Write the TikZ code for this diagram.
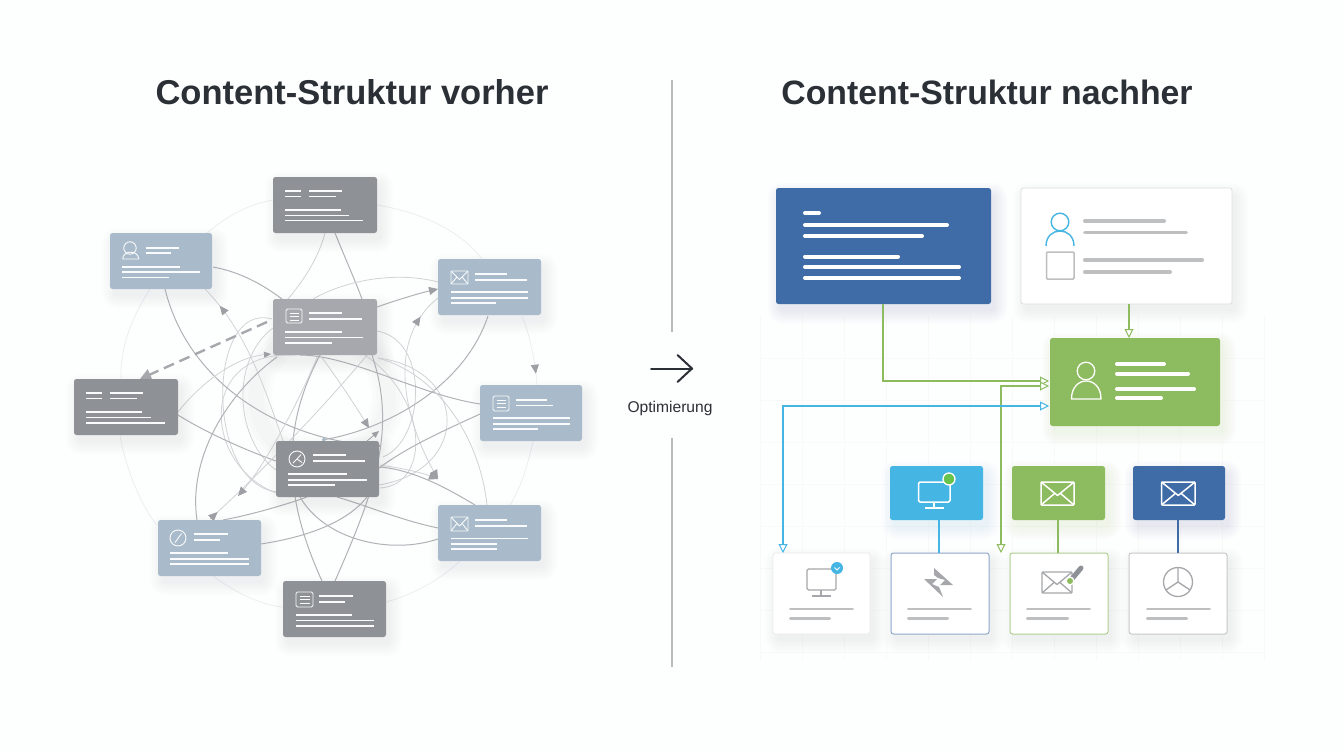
\documentclass[tikz,border=0pt]{standalone}
\usepackage{fontspec}
\setmainfont{Liberation Sans}
\usetikzlibrary{calc,arrows.meta,decorations.markings}
\definecolor{bgc}{HTML}{FDFEFE}
\definecolor{inkc}{HTML}{2B2F36}
\definecolor{darkcard}{HTML}{8E9196}
\definecolor{midcard}{HTML}{A6A8AD}
\definecolor{bluecard}{HTML}{A9BBCB}
\definecolor{connc}{HTML}{B0B3B6}
\definecolor{thinc}{HTML}{D0D3D6}
\definecolor{faintc}{HTML}{ECEEF0}
\definecolor{tipc}{HTML}{9C9FA3}
\definecolor{navyc}{HTML}{3F6CA6}
\definecolor{greenc}{HTML}{8DBB5F}
\definecolor{cyanc}{HTML}{45B5E3}
\definecolor{greyl}{HTML}{BDBFC1}
\definecolor{greyi}{HTML}{A5A7AA}
\pgfdeclarelayer{base}
\pgfsetlayers{base,main}
\tikzset{
  x=1pt,y=-1pt,
  tiptri/.tip={Triangle[length=9pt,width=8pt,color=tipc]},
  tipsmall/.tip={Triangle[length=7pt,width=6pt,color=tipc]},
  tipopen/.tip={Triangle[open,fill=white,line width=1pt,length=9pt,width=9pt]},
  conn/.style={draw=connc,line width=1pt},
  thinline/.style={draw=thinc,line width=.8pt},
  faintline/.style={draw=faintc,line width=.8pt},
  dashline/.style={draw=midcard,line width=2.4pt,dash pattern=on 11pt off 6pt},
  midtip/.style={postaction={decorate},decoration={markings,mark=at position #1 with {\arrow{tiptri}}}},
  midtiprev/.style={postaction={decorate},decoration={markings,mark=at position #1 with {\arrowreversed{tiptri}}}},
  card/.style={anchor=north west,inner sep=0pt,outer sep=0pt,rounded corners=2.5pt,minimum height=#1},
  cardline/.style={draw=white!94!bluecard,line width=1.8pt},
  iconw/.style={draw=white!92!bluecard,line width=.9pt,line join=round},
  wline/.style={draw=white,line width=4pt,line cap=round,shorten <=2pt,shorten >=2pt},
  gline/.style={draw=greyl,line width=3.6pt,line cap=round,shorten <=1.8pt,shorten >=1.8pt},
  gthin/.style={draw=greyl,line width=2.4pt,line cap=round,shorten <=1.2pt,shorten >=1.2pt},
  greenlink/.style={draw=greenc,line width=2.4pt},
  cyanlink/.style={draw=cyanc,line width=2pt},
  iconwr/.style={draw=white,line width=1.5pt,line join=round},
  icong/.style={draw=greyi,line width=1.3pt,line join=round},
  titletext/.style={font=\fontsize{#1}{40}\selectfont\bfseries,text=inkc,inner sep=0pt},
}
\newcommand\softshadow[6]{% x y w h colour opacity
  \foreach \s in {0,2,...,12}{
    \pgfmathsetmacro\rr{3+\s}
    \fill[#5,opacity=#6,rounded corners=\rr pt] (#1+4-\s,#2+7-\s) rectangle (#1+#3+4+\s,#2+#4+7+\s);
  }}
\newcommand\cn[7][]{\draw[#1] ($(#2.north west)+(#3)$) .. controls (#4) and (#5) .. ($(#6.north west)+(#7)$);}
\newcommand\cnc[6][]{\draw[#1] ($(#2.north west)+(#3)$) .. controls (#4) and (#5) .. (#6);}
\newcommand\leftcard[6]{% name x y w colour content
  \softshadow{#2}{#3}{#4}{56}{#5!70!gray}{.014}
  \node[card=56pt,minimum width=#4 pt,fill=#5] (#1) at (#2,#3) {};
  \begin{scope}[shift={(#2,#3)}]#6\end{scope}}
\newcommand\tl[3]{\draw[cardline] (#1,#3)--(#2,#3);}
\newcommand\docicon[4]{\draw[iconw,rounded corners=1.5pt] (#1,#2) rectangle (#3,#4);
  \draw[iconw] (#1+3.5,#2+4)--(#3-3.5,#2+4) (#1+3.5,#2+7.5)--(#3-3.5,#2+7.5) (#1+3.5,#2+11)--(#3-3.5,#2+11);}
\newcommand\envicon[5]{\draw[#5,rounded corners=1pt] (#1,#2) rectangle (#3,#4);
  \draw[#5] (#1,#2)--(#1/2+#3/2,#2/2+#4/2+2)--(#3,#2) (#1,#4)--(#1/2+#3/2-3,#2/2+#4/2) (#3,#4)--(#1/2+#3/2+3,#2/2+#4/2);}
\begin{document}
\begin{tikzpicture}
\useasboundingbox (0,0) rectangle (1344,752);
\begin{pgfonlayer}{base}
  \fill[bgc] (0,0) rectangle (1344,752);
  \foreach \rg in {56,60,...,76}{\draw[black,opacity=.012,line width=12pt] (322,396) circle (\rg pt);}
  \foreach \gx in {760,802,...,1264}{\draw[black!2.5,line width=.6pt] (\gx,316)--(\gx,660);}
  \foreach \gy in {358,400,...,652}{\draw[black!2.5,line width=.6pt] (760,\gy)--(1264,\gy);}
\end{pgfonlayer}

% titles and centre
\node[titletext=34.5] (t1) at (352,92) {Content-Struktur vorher};
\node[titletext=33.8] (t2) at (987,92) {Content-Struktur nachher};
\coordinate (d1) at (672,80); \coordinate (d2) at (672,332);
\coordinate (d3) at (672,438); \coordinate (d4) at (672,667);
\draw[draw=black!27,line width=1.4pt] (d1)--(d2) (d3)--(d4);
\coordinate (a1) at (651,368.5); \coordinate (a2) at (692,368.5);
\draw[draw=inkc,line width=2pt,line cap=round] (a1)--(a2);
\coordinate (a3) at (677.5,355); \coordinate (a4) at (677.5,382);
\draw[draw=inkc,line width=2pt,line cap=round,line join=round] (a3)--(a2)--(a4);
\node[font=\fontsize{15.6}{18}\selectfont,text=inkc,inner sep=0pt] (opt) at (670,408) {Optimierung};

% left cards
\leftcard{A}{273}{177}{104}{darkcard}{\tl{12}{28}{14}\tl{36}{69}{14}\tl{12}{28}{19.5}\tl{36}{63}{19.5}\tl{12}{68}{33}\tl{12}{76}{38.5}\tl{12}{90}{43.5}}
\leftcard{B}{110}{233}{102}{bluecard}{\tl{36}{69}{14.7}\tl{36}{61}{20}\tl{12}{70}{33.7}\tl{12}{90}{39}\tl{12}{59}{44.5}
  \draw[iconw] (20,15) circle (6.2pt);
  \draw[iconw] (12.7,26) .. controls (12.7,17) and (28.7,17) .. (28.7,26) -- cycle;}
\leftcard{C}{273}{299}{104}{midcard}{\tl{36}{69}{14}\tl{36}{89}{20}\tl{12}{69}{33}\tl{12}{90}{38.5}\tl{12}{59}{44}\docicon{13}{10}{29}{24}}
\leftcard{D}{438}{259}{103}{bluecard}{\tl{37}{69}{15}\tl{37}{89}{21}\tl{13}{90}{33}\tl{13}{90}{39}\tl{13}{58}{44}\envicon{13}{12}{30}{25}{iconw}}
\leftcard{E}{74}{379}{104}{darkcard}{\tl{12}{28}{14}\tl{36}{69}{14}\tl{12}{28}{19.5}\tl{36}{63}{19.5}\tl{12}{68}{33}\tl{12}{77}{38.5}\tl{12}{91}{44}}
\leftcard{F}{480}{385}{102}{bluecard}{\tl{36}{67}{15}\tl{36}{73}{20.5}\tl{13}{90}{33}\tl{13}{90}{39}\tl{13}{58}{44}\docicon{13}{11}{29}{26}}
\leftcard{G}{276}{441}{103}{darkcard}{\tl{37}{70}{14}\tl{37}{89}{20}\tl{12}{71}{33}\tl{12}{91}{39}\tl{12}{59}{44}
  \draw[iconw] (21,18) circle (8pt);
  \draw[iconw] (21,18)--(25,13.5) (21,18)--(26,21.5) (21,18)--(17,22);}
\leftcard{H}{158}{520}{103}{bluecard}{\tl{36}{70}{14}\tl{36}{62}{20}\tl{12}{70}{33}\tl{12}{91}{39}\tl{12}{91}{44}
  \draw[iconw] (20,18) circle (8pt);
  \draw[iconw] (17,22.5)--(23.5,13.5);}
\leftcard{I}{438}{505}{103}{bluecard}{\tl{37}{69}{15}\tl{37}{89}{21}\tl{13}{90}{33.5}\tl{13}{59}{39}\tl{13}{59}{44}\envicon{13}{12}{30}{26}{iconw}}
\leftcard{J}{283}{581}{103}{darkcard}{\tl{36}{70}{15}\tl{36}{62}{21}\tl{13}{69}{34}\tl{13}{91}{39.5}\tl{13}{91}{45}\docicon{13}{11}{30}{26}}

% left connectors
\coordinate (f1) at (438,479);
\coordinate (f2) at (238,496);
\coordinate (f3) at (369,428);
\coordinate (f4) at (379,431);
\begin{pgfonlayer}{base}
  \cn[faintline]{B}{40,56}{130,320}{120,350}{E}{47,0}
  \cn[faintline]{A}{0,23}{245,205}{225,218}{B}{97,0}
  \cn[faintline]{D}{44,0}{460,230}{420,212}{A}{104,28}
  \cn[faintline]{J}{0,26}{260,605}{235,592}{H}{55,56}
  \cn[faintline]{I}{22,56}{440,580}{412,595}{J}{103,21}
  \cn[faintline]{F}{53,56}{528,465}{520,490}{I}{72,0}
  \cn[faintline]{E}{46,56}{125,465}{140,505}{H}{-1,5}
  \cn[faintline,midtip=.84]{D}{84,57}{530,335}{535,360}{F}{57,0}
  \cn[thinline]{C}{104,32}{430,340}{425,440}{G}{107,16}
  \cn[thinline]{C}{105,59}{470,370}{470,470}{G}{103,44}
  \cn[thinline]{C}{0,29}{230,360}{235,440}{G}{0,29}
  \cn[thinline]{C}{-1,20}{205,300}{205,490}{G}{4,51}
  \cn[thinline]{G}{104,47}{430,485}{430,400}{C}{92,56}
  \cn[thinline]{C}{22,56}{190,350}{205,480}{G}{14,56}
  \cnc[thinline,-{tiptri}]{G}{104,24}{400,468}{420,472}{f1}
\end{pgfonlayer}
\begin{pgfonlayer}{base}
  \cn[conn]{B}{103,34}{240,272}{262,284}{C}{9,0}
  \cn[conn,-{tiptri}]{B}{55,56}{190,390}{290,440}{G}{105,5}
  \cn[thinline,midtip=.87]{G}{7,0}{262,380}{245,330}{B}{95,56}
  \cn[thinline]{A}{52,56}{318,260}{302,282}{C}{15,0}
  \cn[conn]{A}{62,56}{345,258}{355,280}{C}{89,0}
  \cn[thinline]{D}{0,23}{400,272}{350,278}{C}{40,0}
  \cn[conn,-{tiptri}]{C}{104,8}{397,300}{420,293}{D}{0,30}
  \cnc[thinline,midtiprev=.13,-{tiptri}]{D}{0,39}{385,340}{405,420}{f1}
  \cn[conn,-{Circle[length=4pt,color=bluecard]}]{D}{50,57}{465,385}{390,428}{G}{46,-1}
  \cn[conn]{F}{0,19}{420,395}{350,355}{C}{27,56}
  \cn[conn]{F}{0,29}{450,428}{410,445}{G}{103,27}
  \cn[conn]{E}{104,36}{205,432}{245,450}{G}{0,20}
  \cn[thinline,-{tipsmall}]{E}{104,33}{195,390}{230,358}{C}{-2,55}
  \cn[conn]{H}{39,0}{188,460}{225,395}{C}{4,58}
  \cn[conn]{C}{47,56}{280,430}{285,500}{J}{39,0}
  \cn[conn]{C}{99,56}{397,430}{375,490}{J}{52,0}
  \cn[thinline,midtip=.045]{H}{52,-1}{270,465}{340,388}{C}{94,56}
  \cnc[thinline,-{tiptri}]{C}{45,56}{300,400}{265,465}{f2}
  \cn[conn]{H}{65,0}{250,515}{285,505}{G}{31,56}
  \cn[conn]{H}{103,24}{300,538}{345,525}{G}{91,56}
  \cn[conn]{I}{0,23}{400,520}{365,505}{G}{61,56}
  \cn[conn]{I}{0,34}{390,555}{325,540}{G}{24,56}
  \cn[conn]{G}{104,26}{415,470}{450,490}{I}{37,0}
  \cn[thinline]{C}{105,59}{440,375}{480,440}{I}{49,0}
  \cnc[thinline,-{tiptri}]{C}{47,56}{335,375}{355,405}{f3}
  \draw[dashline,-{Triangle[length=11pt,width=11pt,color=midcard]}] ($(C.north west)+(-6,23)$)--($(E.north west)+(66,0)$);
\end{pgfonlayer}
\draw[tipc,line width=.8pt,-{tipsmall}] ($(G.north west)+(91,0)$)--(f4);

% right big boxes
\softshadow{776}{188}{215}{116}{navyc}{.014}
\node[card=116pt,minimum width=215pt,fill=navyc] (blue) at (776,188) {};
\foreach \xa/\ya in {821/213,949/225,924/236,900/256.5,961/267,961/278}{\draw[wline] (803,\ya)--(\xa,\ya);}
\softshadow{1021}{188}{211}{116}{black}{.009}
\node[card=116pt,minimum width=211pt,fill=white,draw=black!13,line width=.8pt] (white) at (1021,188) {};
\draw[cyanc,line width=1.4pt] (1060,222) circle (8.8pt);
\draw[cyanc,line width=1.4pt] (1046,246) .. controls (1046,226) and (1074,226) .. (1074,246);
\draw[greyl,line width=1.5pt,rounded corners=1pt] (1046.5,252) rectangle (1074,279);
\foreach \xa/\ya in {1166/221,1188/232.5,1204/260,1172/272}{\draw[gline] (1083,\ya)--(\xa,\ya);}
\softshadow{1050}{338}{170}{88}{greenc}{.014}
\node[card=88pt,minimum width=170pt,fill=greenc] (green) at (1050,338) {};
\draw[white,line width=1.3pt] (1086,371) circle (8.8pt);
\draw[white,line width=1.3pt,line join=round] (1071.5,399) .. controls (1071.5,375) and (1101,375) .. (1101,399) -- cycle;
\foreach \xa/\ya in {1166/364,1190/373.5,1196/389,1163/398}{\draw[wline] (1115,\ya)--(\xa,\ya);}

% small colour boxes
\softshadow{890}{466}{93}{54}{cyanc}{.014}
\softshadow{1012}{466}{93}{54}{greenc}{.014}
\softshadow{1133}{466}{92}{54}{navyc}{.014}
\node[card=54pt,minimum width=93pt,fill=cyanc] (s1) at (890,466) {};
\node[card=54pt,minimum width=93pt,fill=greenc] (s2) at (1012,466) {};
\node[card=54pt,minimum width=92pt,fill=navyc] (s3) at (1133,466) {};
% bottom cards
\softshadow{773}{553}{97}{81}{black}{.009}
\softshadow{891}{553}{98}{81}{black}{.009}
\softshadow{1010}{553}{98}{81}{black}{.009}
\softshadow{1129}{553}{98}{81}{black}{.009}
\node[card=81pt,minimum width=97pt,fill=white,draw=black!8,line width=.8pt] (c1) at (773,553) {};
\node[card=81pt,minimum width=98pt,fill=white,draw=navyc!60,line width=1pt] (c2) at (891,553) {};
\node[card=81pt,minimum width=98pt,fill=white,draw=greenc!70,line width=1pt] (c3) at (1010,553) {};
\node[card=81pt,minimum width=98pt,fill=white,draw=black!22,line width=1pt] (c4) at (1129,553) {};
\foreach \xx/\xa/\xb in {789/854/831,907/972/949,1026/1091/1069,1146/1211/1188}{
  \draw[gthin] (\xx,609)--(\xa,609);
  \draw[gthin] (\xx,618.5)--(\xb,618.5);}

% icons right
\draw[iconwr,rounded corners=1.5pt] (918.5,482) rectangle (950,502);
\draw[iconwr] (934,502)--(934,508) (925,508)--(944,508);
\draw[white,line width=1.3pt,fill=green!30!greenc!85!gray] (949,479) circle (6pt);
\envicon{1041}{482}{1074}{505}{iconwr}
\envicon{1161.5}{482}{1195}{505}{iconwr}
\draw[icong,rounded corners=1.5pt] (807,569) rectangle (836,590);
\draw[icong] (821,590)--(821,596) (811.5,596)--(831,596);
\fill[cyanc] (837,568) circle (6pt);
\draw[white,line width=1pt] (834.5,567.5)--(837,570)--(839.5,567.5);
\fill[greyi] (934,568)--(953,585)--(940,585)--(945,580)--(938,578)--(934,575)--cycle;
\fill[greyi] (924,579)--(937,579)--(932,584)--(939,587)--(943,597)--cycle;
\envicon{1042}{572}{1072}{593}{icong}
\draw[darkcard,line width=5pt,line cap=round] (1071,580)--(1081,568);
\fill[white] (1070,581) circle (4.6pt);
\fill[greenc] (1070,581) circle (3pt);
\draw[icong] (1178,582) circle (14.5pt);
\draw[icong] (1178,582)--(1178,568) (1178,582)--(1166,590) (1178,582)--(1190,590);

% right connectors
\coordinate (r1) at (1001,553);
\draw[greenlink,-{tipopen}] ($(blue.north west)+(107,116)$) |- ($(green.north west)+(-1,43)$);
\draw[greenlink,-{tipopen}] ($(white.north west)+(108,116)$) -- ($(green.north west)+(79,0)$);
\draw[greenlink,{tipopen}-{tipopen}] (r1) |- ($(green.north west)+(-1,48)$);
\draw[cyanlink,{tipopen}-{tipopen}] ($(c1.north west)+(10,0)$) |- ($(green.north west)+(-1,68)$);
\draw[cyanc,line width=1.4pt] ($(s1.north west)+(49,54)$)--($(c2.north west)+(48,0)$);
\draw[greenc,line width=1.4pt] ($(s2.north west)+(46,54)$)--($(c3.north west)+(48,0)$);
\draw[navyc,line width=1.4pt] ($(s3.north west)+(45,54)$)--($(c4.north west)+(49,0)$);
\end{tikzpicture}
\end{document}
